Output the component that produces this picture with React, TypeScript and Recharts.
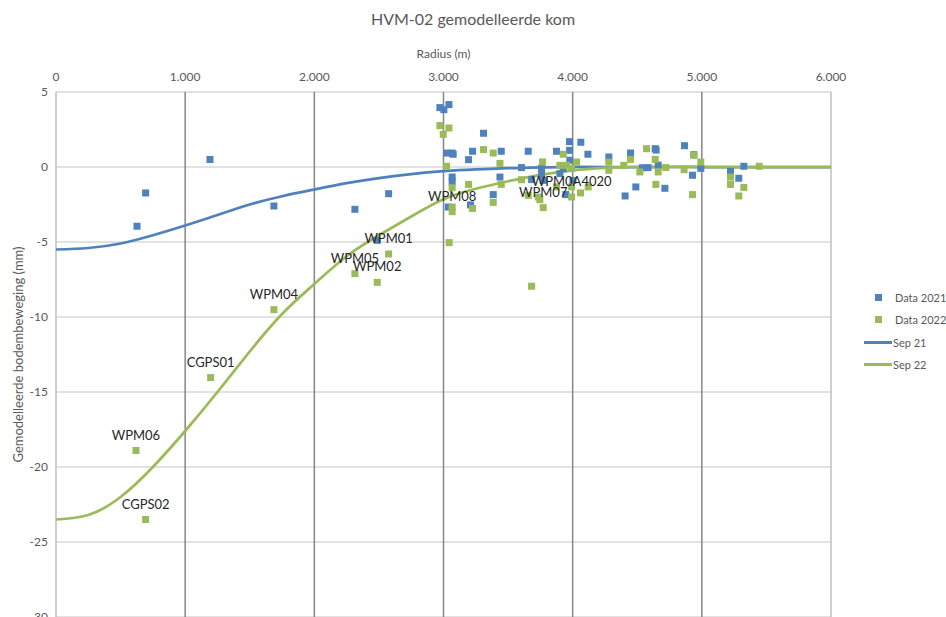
import React from "react";
import {
  ComposedChart,
  Scatter,
  Line,
  XAxis,
  YAxis,
  CartesianGrid,
  ReferenceLine,
  LabelList,
} from "recharts";

// radius (m) and modelled ground movement (mm)
const radius2021 = [
  627, 694, 1192, 1687, 2314, 2575, 2487, 2972, 3003, 3042, 3310, 3024, 3067, 3075,
  3225, 3194, 3447, 3656, 3875, 3976, 3976, 4063, 4118, 4280, 4448, 4639, 4646, 4866,
  4938, 3067, 3067, 3604, 3437, 3385, 3682, 3759, 3759, 3772, 3901, 3927, 3947, 3978,
  4002, 4406, 4489, 4714, 4662, 4584, 4992, 4928, 5222, 5286, 5325, 3036, 3209, 4540,
];
const movement2021 = [
  -3.95, -1.73, 0.5, -2.6, -2.82, -1.78, -4.89, 3.96, 3.82, 4.16, 2.25, 0.93, 0.93, 0.85,
  1.05, 0.49, 1.05, 1.05, 1.05, 1.69, 1.11, 1.65, 0.85, 0.67, 0.93, 1.22, 1.13, 1.42,
  0.82, -0.67, -0.98, -0.04, -0.67, -1.84, -0.84, -0.1, -0.44, -0.89, -0.44, -0.11, -1.84, 0.45,
  -0.9, -1.93, -1.33, -1.42, 0.13, -0.04, -0.09, -0.55, -0.29, -0.75, 0.05, -2.67, -2.53, -0.05,
];

const radius2022 = [
  619, 694, 1197, 1687, 2314, 2487, 2575, 3067, 3772, 3992,
  2972, 3042, 2998, 3024, 3310, 3385, 3437, 3067, 3067, 3194, 3225, 3385, 3447, 3604,
  3656, 3733, 3746, 3767, 3875, 3927, 3901, 3953, 3992, 4030, 3992, 4061, 4120, 4280,
  4280, 4448, 4396, 4520, 4572, 4639, 4662, 4644, 4721, 4863, 4938, 4992, 4928, 5222,
  5222, 5325, 5286, 5444, 3044, 3682,
];
const movement2022 = [
  -18.9, -23.5, -14.04, -9.51, -7.11, -7.69, -5.8, -2.98, -2.71, -2.0,
  2.76, 2.6, 2.18, 0.05, 1.16, 0.93, 0.24, -1.38, -2.67, -1.16, -2.76, -2.36, -1.16, -0.85,
  -1.89, -2.0, -2.18, 0.34, -1.33, 0.85, 0.11, 0.11, -0.11, 0.33, -1.33, -1.73, -1.33, 0.33,
  -0.22, 0.51, 0.11, -0.33, 1.22, 0.51, -0.33, -1.16, -0.04, -0.18, 0.78, 0.33, -1.84, -0.67,
  -1.16, -1.36, -1.93, 0.05, -5.04, -7.95,
];
const stations2022 = [
  "WPM06", "CGPS02", "CGPS01", "WPM04", "WPM05", "WPM02", "WPM01", "WPM08", "WPM07", "WPM0A4020",
];

// modelled bowl profiles
const profileRadius = [
  0, 250, 500, 750, 1000, 1250, 1500, 1750, 2000, 2250, 2500, 2750, 3000, 3250, 3500,
  3750, 4000, 4250, 4500, 5000, 5500, 6000,
];
const sep21 = [
  -5.5, -5.4, -5.1, -4.55, -3.9, -3.2, -2.5, -1.95, -1.5, -1.08, -0.74, -0.47, -0.28, -0.16,
  -0.08, -0.03, 0, 0, 0, 0, 0, 0,
];
const sep22 = [
  -23.5, -23.2, -22.0, -20.0, -17.6, -15.0, -12.3, -9.8, -7.8, -5.95, -4.55, -3.3, -2.15, -1.45,
  -0.95, -0.52, -0.22, -0.06, 0, 0, 0, 0,
];

const xTicks = [0, 1000, 2000, 3000, 4000, 5000, 6000];
const yTicks = [5, 0, -5, -10, -15, -20, -25, -30];
const darkGridX = [1000, 2000, 3000, 4000, 5000];
const lightGridX = [0, 6000];

const BLUE = "#4f81bd";
const GREEN = "#9bbb59";
const FONT = "Lato, 'Open Sans', sans-serif";

const data2021 = radius2021.map((x, i) => ({ x, y: movement2021[i] }));
const data2022 = radius2022.map((x, i) => ({ x, y: movement2022[i], label: stations2022[i] }));
const line21 = profileRadius.map((x, i) => ({ x, y: sep21[i] }));
const line22 = profileRadius.map((x, i) => ({ x, y: sep22[i] }));

const fmtThousands = (v: number) => String(v).replace(/\B(?=(\d{3})+(?!\d))/g, ".");

const square = (fill: string) => (props: any) => (
  <rect x={props.cx - 3.5} y={props.cy - 3.5} width={7} height={7} fill={fill} />
);

function StationLabel(props: any) {
  const { x, y, width, height, value } = props;
  if (!value) return null;
  const cx = x + width / 2;
  const cy = y + height / 2;
  return (
    <text x={cx} y={cy - 16} textAnchor="middle" dominantBaseline="central" fontSize={13} fill="#262626" fontFamily={FONT}>
      {value}
    </text>
  );
}

function YTitle(props: any) {
  const { viewBox } = props;
  const cy = viewBox.y + viewBox.height / 2;
  return (
    <text x={18} y={cy} transform={`rotate(-90, 18, ${cy})`} textAnchor="middle" dominantBaseline="central" fontSize={13} fill="#595959" fontFamily={FONT}>
      Gemodelleerde bodembeweging (mm)
    </text>
  );
}

const legendItems = [
  { name: "Data 2021", color: BLUE, kind: "square" },
  { name: "Data 2022", color: GREEN, kind: "square" },
  { name: "Sep 21", color: BLUE, kind: "line" },
  { name: "Sep 22", color: GREEN, kind: "line" },
];

export default function App() {
  return (
    <div style={{ position: "absolute", left: 0, top: 0, width: 946, height: 617, overflow: "hidden", background: "#fff" }}>
      <div style={{ position: "absolute", top: 9, width: 946, textAlign: "center", fontFamily: FONT, fontSize: 16, color: "#595959" }}>
        HVM-02 gemodelleerde kom
      </div>
      <ComposedChart width={946} height={640} margin={{ top: 42, right: 115, left: 16, bottom: 23 }}>
        <CartesianGrid vertical={false} stroke="#d9d9d9" strokeWidth={1.5} />
        <XAxis
          type="number"
          dataKey="x"
          orientation="top"
          domain={[0, 6000]}
          ticks={xTicks}
          tickFormatter={fmtThousands}
          height={50}
          axisLine={false}
          tickLine={false}
          tickMargin={5}
          tick={{ fontSize: 12, fill: "#595959", fontFamily: FONT }}
          label={{ value: "Radius (m)", position: "insideTop", offset: 7, fontSize: 12, fill: "#595959", fontFamily: FONT }}
        />
        <YAxis
          type="number"
          dataKey="y"
          domain={[-30, 5]}
          ticks={yTicks}
          width={40}
          axisLine={false}
          tickLine={false}
          tick={{ fontSize: 12, fill: "#595959", fontFamily: FONT }}
          label={<YTitle />}
        />
        {lightGridX.map((v) => (
          <ReferenceLine key={"l" + v} x={v} stroke="#bfbfbf" strokeWidth={1.5} />
        ))}
        {darkGridX.map((v) => (
          <ReferenceLine key={"d" + v} x={v} stroke="#868686" strokeWidth={1.5} />
        ))}
        <Scatter name="Data 2021" data={data2021} fill={BLUE} shape={square(BLUE)} isAnimationActive={false} />
        <Scatter name="Data 2022" data={data2022} fill={GREEN} shape={square(GREEN)} isAnimationActive={false}>
          <LabelList dataKey="label" content={<StationLabel />} />
        </Scatter>
        <Line name="Sep 21" data={line21} dataKey="y" type="natural" stroke={BLUE} strokeWidth={2.75} dot={false} activeDot={false} isAnimationActive={false} />
        <Line name="Sep 22" data={line22} dataKey="y" type="natural" stroke={GREEN} strokeWidth={2.75} dot={false} activeDot={false} isAnimationActive={false} />
      </ComposedChart>
      <div style={{ position: "absolute", left: 864, top: 286, fontFamily: FONT, fontSize: 11, color: "#595959", whiteSpace: "nowrap" }}>
        {legendItems.map((it) => (
          <div key={it.name} style={{ display: "flex", alignItems: "center", height: 22.5 }}>
            <div style={{ width: 28, display: "flex", justifyContent: "center" }}>
              {it.kind === "square" ? (
                <div style={{ width: 7, height: 7, background: it.color }} />
              ) : (
                <div style={{ width: 28, height: 3, background: it.color }} />
              )}
            </div>
            <span style={{ marginLeft: it.kind === "square" ? 3 : 1 }}>{it.name}</span>
          </div>
        ))}
      </div>
    </div>
  );
}
